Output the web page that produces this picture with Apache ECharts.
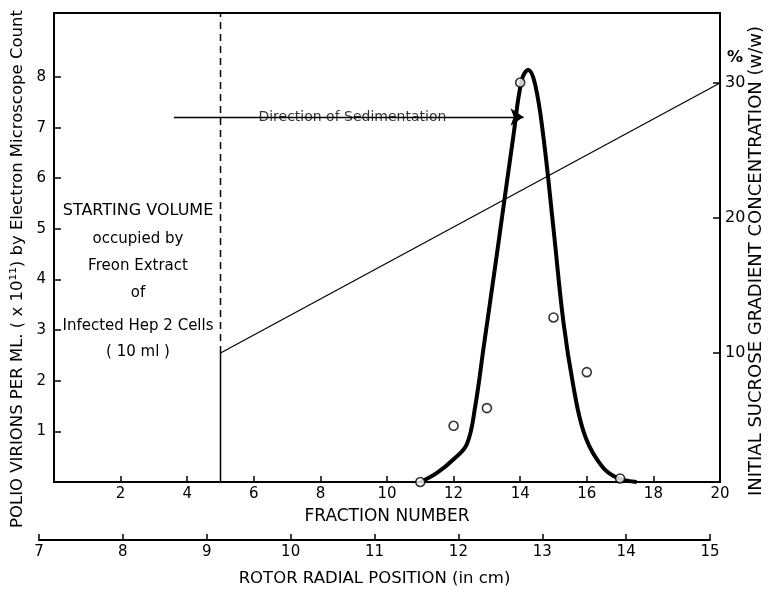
<!DOCTYPE html>
<html>
<head>
<meta charset="utf-8">
<script src="https://cdn.jsdelivr.net/npm/echarts@6/dist/echarts.min.js"></script>
<style>
html, body { margin: 0; padding: 0; background: #fff; }
#chart { width: 769px; height: 592px; }
</style>
</head>
<body>
<div id="chart"></div>
<script>
// measured points (open circles)
var fractions = [11, 12, 13, 14, 15, 16, 17];
var virions = [0, 1.11, 1.46, 7.89, 3.25, 2.17, 0.07];

// hand drawn peak curve
var curveX = [11, 11.5, 12, 12.4, 12.65, 12.9, 13.3, 13.8, 14.05, 14.24, 14.45, 14.7, 15.0, 15.3, 15.6, 15.9, 16.3, 16.8, 17.5];
var curveY = [0, 0.18, 0.45, 0.75, 1.5, 2.65, 4.5, 6.86, 7.95, 8.14, 7.85, 6.8, 5.0, 3.15, 1.88, 1.0, 0.45, 0.12, 0];

// sucrose gradient (% w/w)
var gradX = [5, 20];
var gradY = [10, 30];

var fractionTicks = [2, 4, 6, 8, 10, 12, 14, 16, 18, 20];
var rotorTicks = [7, 8, 9, 10, 11, 12, 13, 14, 15];
var virionTicks = [1, 2, 3, 4, 5, 6, 7, 8];
var sucroseTicks = [10, 20, 30];

var startText = ['STARTING VOLUME', 'occupied by', 'Freon Extract', 'of', 'Infected Hep 2 Cells', '( 10 ml )'];
var startTop = [211, 239, 266, 293, 326, 352];

var FONT = 'DejaVu Sans';
var dom = document.getElementById('chart');
var myChart = echarts.init(dom);

function zip(a, b) {
    return a.map(function (v, i) { return [v, b[i]]; });
}

var rMin = 0.444, rMax = 35.185;

var graphics = [];
startText.forEach(function (t, i) {
    graphics.push({
        type: 'text', x: 138, y: startTop[i],
        style: { text: t, font: (i === 0 ? '16px ' : '15px ') + FONT, fill: '#000', align: 'center', verticalAlign: 'middle' }
    });
});
graphics.push({
    type: 'text', x: 18, y: 269, rotation: Math.PI / 2,
    style: { text: 'POLIO VIRIONS PER ML. ( x 10¹¹) by Electron Microscope Count', font: '16.5px ' + FONT, fill: '#000', align: 'center', verticalAlign: 'middle' }
});
graphics.push({
    type: 'text', x: 756, y: 261, rotation: Math.PI / 2,
    style: { text: 'INITIAL SUCROSE GRADIENT CONCENTRATION (w/w)', font: '18px ' + FONT, fill: '#000', align: 'center', verticalAlign: 'middle' }
});
graphics.push({
    type: 'text', x: 735, y: 58,
    style: { text: '%', font: 'bold 16px ' + FONT, fill: '#000', align: 'center', verticalAlign: 'middle' }
});

var option = {
    animation: false,
    backgroundColor: '#fff',
    textStyle: { fontFamily: FONT, color: '#000' },
    grid: [
        { left: 54, right: 49, top: 13, bottom: 110, show: true, borderColor: '#000', borderWidth: 2 },
        { left: 39, right: 59, top: 539, height: 1 }
    ],
    xAxis: [{
        type: 'value', gridIndex: 0, min: 0, max: 20, interval: 2,
        name: 'FRACTION NUMBER', nameLocation: 'middle', nameGap: 26,
        nameTextStyle: { fontSize: 17, color: '#000', fontFamily: FONT },
        axisLine: { lineStyle: { color: '#000', width: 2 } },
        axisTick: { inside: true, length: 6, lineStyle: { color: '#000', width: 1.5 } },
        axisLabel: { fontSize: 15, color: '#000', margin: 5, customValues: fractionTicks },
        splitLine: { show: false }
    }, {
        type: 'value', gridIndex: 1, min: 7, max: 15, interval: 1,
        name: 'ROTOR RADIAL POSITION (in cm)', nameLocation: 'middle', nameGap: 30,
        nameTextStyle: { fontSize: 16.5, color: '#000', fontFamily: FONT },
        axisLine: { lineStyle: { color: '#000', width: 2 } },
        axisTick: { inside: true, length: 6, lineStyle: { color: '#000', width: 1.5 } },
        axisLabel: { fontSize: 15, color: '#000', margin: 5, customValues: rotorTicks },
        splitLine: { show: false }
    }],
    yAxis: [{
        type: 'value', gridIndex: 0, min: 0, max: 9.264, position: 'left',
        axisLine: { show: true, lineStyle: { color: '#000', width: 2 } },
        axisTick: { inside: true, length: 7, customValues: virionTicks, lineStyle: { color: '#000', width: 1.5 } },
        axisLabel: { fontSize: 15, color: '#000', margin: 8, customValues: virionTicks },
        splitLine: { show: false }
    }, {
        type: 'value', gridIndex: 0, min: rMin, max: rMax, position: 'right',
        axisLine: { show: true, lineStyle: { color: '#000', width: 2 } },
        axisTick: { inside: true, length: 7, customValues: sucroseTicks, lineStyle: { color: '#000', width: 1.5 } },
        axisLabel: { fontSize: 16, color: '#000', margin: 5, customValues: sucroseTicks },
        splitLine: { show: false }
    }, {
        type: 'value', gridIndex: 1, show: false, min: 0, max: 1
    }],
    series: [{
        // gradient line
        type: 'line', xAxisIndex: 0, yAxisIndex: 1,
        data: zip(gradX, gradY), symbol: 'none',
        lineStyle: { color: '#000', width: 1.2 }, z: 2
    }, {
        // start volume boundary: solid below gradient start, dashed above
        type: 'line', xAxisIndex: 0, yAxisIndex: 1,
        data: [[gradX[0], rMin], [gradX[0], gradY[0]]], symbol: 'none',
        lineStyle: { color: '#000', width: 1.5 }, z: 2
    }, {
        type: 'line', xAxisIndex: 0, yAxisIndex: 1,
        data: [[gradX[0], gradY[0]], [gradX[0], rMax]], symbol: 'none',
        lineStyle: { color: '#000', width: 1.5, type: [7, 5] }, z: 2
    }, {
        // direction arrow
        type: 'line', xAxisIndex: 0, yAxisIndex: 0, data: [], symbol: 'none',
        markLine: {
            silent: true, animation: false,
            symbol: ['none', 'arrow'], symbolSize: 13,
            lineStyle: { color: '#000', width: 1.3, type: 'solid' },
            label: { show: false },
            data: [[{ coord: [3.6, 7.21] }, { coord: [14.1, 7.21] }]]
        }, z: 3
    }, {
        type: 'scatter', xAxisIndex: 0, yAxisIndex: 0,
        data: [[8.96, 7.21]], symbolSize: 0, silent: true,
        label: {
            show: true, position: 'inside', formatter: 'Direction of Sedimentation',
            fontSize: 14, color: '#000', fontFamily: FONT,
            backgroundColor: '#fff', padding: [2, 5]
        }, z: 4
    }, {
        // fitted peak
        type: 'line', xAxisIndex: 0, yAxisIndex: 0,
        data: zip(curveX, curveY), smooth: 0.4, symbol: 'none',
        lineStyle: { color: '#000', width: 4 }, z: 5
    }, {
        type: 'scatter', xAxisIndex: 0, yAxisIndex: 0,
        data: zip(fractions, virions), symbol: 'circle', symbolSize: 9,
        itemStyle: { color: '#fff', borderColor: '#000', borderWidth: 1.6 }, z: 6
    }, {
        type: 'line', xAxisIndex: 1, yAxisIndex: 2, data: [], symbol: 'none'
    }],
    graphic: graphics
};

myChart.setOption(option);
</script>
</body>
</html>
